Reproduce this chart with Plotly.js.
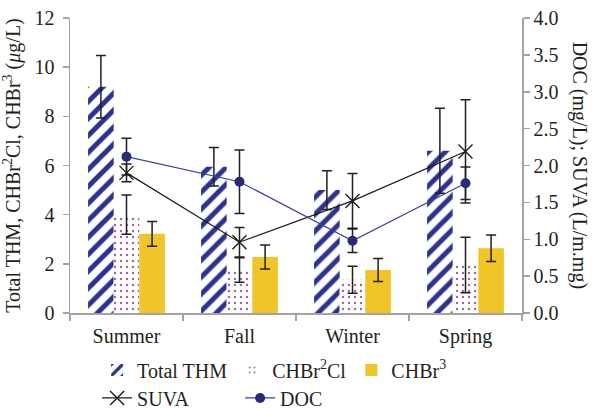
<!DOCTYPE html>
<html>
<head>
<meta charset="utf-8">
<script src="https://cdn.plot.ly/plotly-3.0.1.min.js"></script>
<style>
  html, body { margin: 0; padding: 0; background: #fff; }
  #chart { width: 595px; height: 409px; }
</style>
</head>
<body>
<div id="chart"></div>
<script>
// Seasonal means with standard deviations
const seasons = ['Summer', 'Fall', 'Winter', 'Spring'];

// Left axis (µg/L)
const totalTHM    = [9.2, 5.95, 5.0, 6.6];
const totalTHMErr = [1.27, 0.78, 0.79, 1.73];
const chbr2cl     = [4.0, 1.75, 1.35, 1.95];
const chbr2clErr  = [0.8, 0.5, 0.55, 1.13];
const chbr3       = [3.22, 2.28, 1.75, 2.63];
const chbr3Err    = [0.5, 0.49, 0.47, 0.54];

// Right axis
const suva    = [1.9, 0.96, 1.52, 2.19];
const suvaErr = [0.12, 0.2, 0.37, 0.7];
const doc     = [2.12, 1.78, 0.98, 1.76];
const docErr  = [0.25, 0.43, 0.16, 0.22];

const leftTicks  = [0, 2, 4, 6, 8, 10, 12];
const rightTicks = [0, 0.5, 1, 1.5, 2, 2.5, 3, 3.5, 4];

const FONT = 'Liberation Serif';
const INK = '#231f20';
const AXIS = '#a3a3a3';

const errStyle = (arr) => ({
  type: 'data', array: arr, visible: true,
  color: INK, thickness: 1.5, width: 5
});

const traces = [
  {
    type: 'bar', name: 'Total THM', x: seasons, y: totalTHM,
    error_y: errStyle(totalTHMErr),
    marker: {
      color: '#2e3192',
      pattern: { shape: '/', fgcolor: '#2e3192', bgcolor: '#ffffff', size: 12, solidity: 0.42 }
    },
    legend: 'legend'
  },
  {
    type: 'bar', name: 'CHBr<sup>2</sup>Cl', x: seasons, y: chbr2cl,
    error_y: errStyle(chbr2clErr),
    marker: {
      color: '#a8638f',
      pattern: { shape: '.', fgcolor: '#a8638f', bgcolor: '#ffffff', size: 6, solidity: 0.12 }
    },
    legend: 'legend'
  },
  {
    type: 'bar', name: 'CHBr<sup>3</sup>', x: seasons, y: chbr3,
    error_y: errStyle(chbr3Err),
    marker: { color: '#f0c52a' },
    legend: 'legend'
  },
  {
    type: 'scatter', mode: 'lines+markers', name: 'SUVA', x: seasons, y: suva,
    yaxis: 'y2',
    error_y: errStyle(suvaErr),
    line: { color: '#1a1a1a', width: 1.2 },
    marker: { symbol: 'x-thin-open', size: 14, color: '#1a1a1a', line: { color: '#1a1a1a', width: 1.4 } },
    legend: 'legend2'
  },
  {
    type: 'scatter', mode: 'lines+markers', name: 'DOC', x: seasons, y: doc,
    yaxis: 'y2',
    error_y: errStyle(docErr),
    line: { color: '#3a3fa3', width: 1.2 },
    marker: { symbol: 'circle', size: 10, color: '#262a78' },
    legend: 'legend2'
  }
];

const layout = {
  width: 595, height: 409,
  margin: { l: 70, r: 73, t: 18, b: 96, autoexpand: false },
  paper_bgcolor: '#ffffff', plot_bgcolor: '#ffffff',
  font: { family: FONT, size: 20, color: INK },
  barmode: 'group', bargap: 0.32, bargroupgap: 0,
  showlegend: true,
  xaxis: {
    type: 'category', showgrid: false, zeroline: false, automargin: false,
    showline: true, linecolor: AXIS, linewidth: 1.5,
    ticks: 'outside', tickson: 'boundaries', ticklen: 6, tickcolor: AXIS, tickwidth: 1.5,
    tickfont: { family: FONT, size: 20, color: INK },
    ticklabelstandoff: 4
  },
  yaxis: {
    range: [0, 12], tickvals: leftTicks, showgrid: false, zeroline: false, automargin: false,
    showline: true, linecolor: AXIS, linewidth: 1.5,
    ticks: 'outside', ticklen: 6, tickcolor: AXIS, tickwidth: 1.5,
    tickfont: { family: FONT, size: 20, color: INK },
    ticklabelstandoff: 4,
    title: {
      text: 'Total THM, CHBr<sup>2</sup>Cl, CHBr<sup>3</sup> (<i>μ</i>g/L)',
      font: { family: FONT, size: 20, color: INK }, standoff: 8
    }
  },
  yaxis2: {
    overlaying: 'y', side: 'right', range: [0, 4], tickvals: rightTicks, automargin: false,
    tickformat: '.1f', showgrid: false, zeroline: false,
    showline: true, linecolor: AXIS, linewidth: 1.5,
    ticks: 'outside', ticklen: 6, tickcolor: AXIS, tickwidth: 1.5,
    tickfont: { family: FONT, size: 20, color: INK }
  },
  legend: {
    orientation: 'h', x: 0.06, xanchor: 'left', y: -0.193, yanchor: 'middle',
    font: { family: FONT, size: 20, color: INK }, bgcolor: 'rgba(0,0,0,0)'
  },
  legend2: {
    orientation: 'h', x: 0.06, xanchor: 'left', y: -0.288, yanchor: 'middle',
    entrywidth: 98,
    font: { family: FONT, size: 20, color: INK }, bgcolor: 'rgba(0,0,0,0)'
  },
  annotations: [{
    text: 'DOC (mg/L); SUVA (L/m.mg)', textangle: 90,
    xref: 'paper', yref: 'paper', x: 1.128, y: 0.5,
    xanchor: 'center', yanchor: 'middle', showarrow: false,
    font: { family: FONT, size: 20, color: INK }
  }]
};

Plotly.newPlot('chart', traces, layout, { displayModeBar: false, staticPlot: true });
</script>
</body>
</html>
